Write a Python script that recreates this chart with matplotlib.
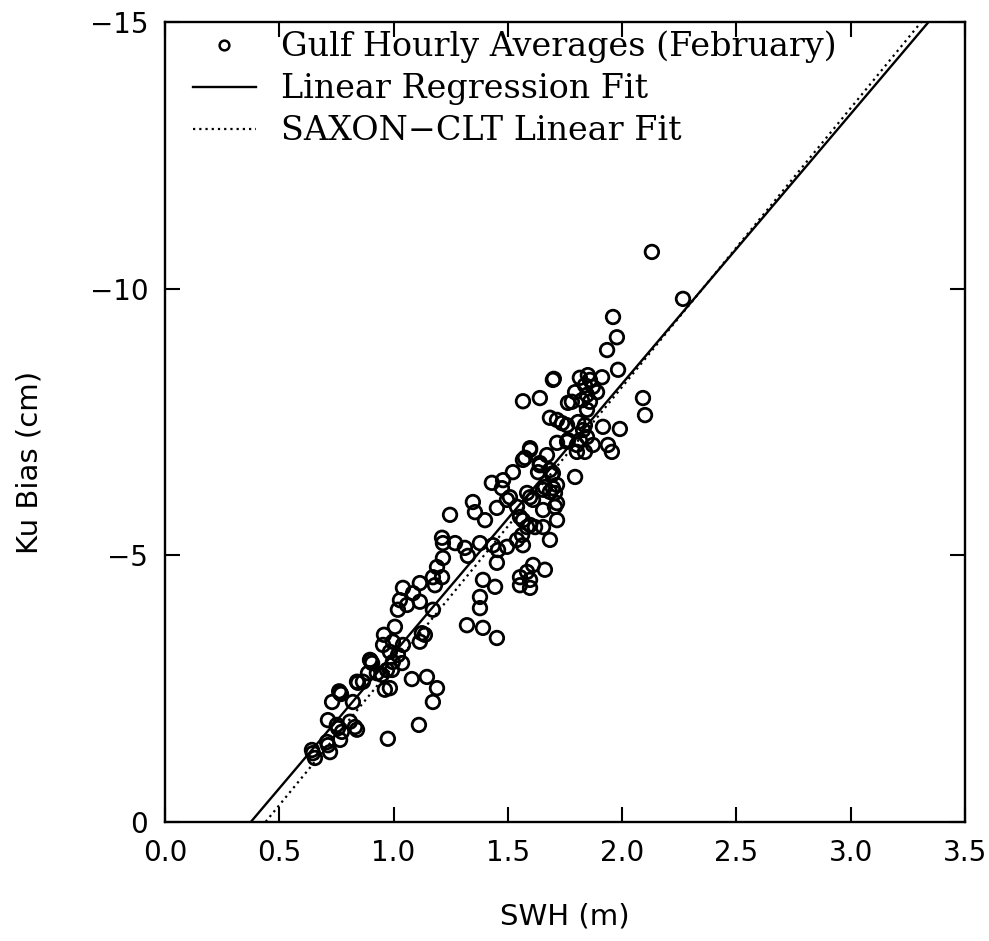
import numpy as np
import matplotlib
matplotlib.use("Agg")
import matplotlib.pyplot as plt
from matplotlib.lines import Line2D

# Gulf hourly averages (February)
swh = [0.643, 0.647, 0.656, 0.709, 0.713, 0.722, 0.766, 0.713, 0.752, 0.757, 0.774, 0.809, 0.831, 0.840,
       0.731, 0.766, 0.770, 0.762, 0.822, 0.840, 0.844, 0.866, 0.888, 0.927, 0.949, 0.897, 0.906, 0.900,
       0.958, 0.954, 0.997, 1.041, 0.984, 1.019, 1.037, 0.997, 0.971, 0.993, 1.006, 1.124, 1.115, 1.137,
       1.080, 1.146, 1.190, 1.172, 0.962, 0.984, 1.111, 0.975,
       1.041, 1.085, 1.115, 1.028, 1.059, 1.115, 1.172, 1.019,
       1.212, 1.216, 1.269, 1.312, 1.325, 1.378, 1.216, 1.190, 1.212, 1.181, 1.172, 1.247, 1.347, 1.356, 1.400,
       1.391, 1.444, 1.378, 1.378, 1.321, 1.391, 1.452,
       1.435, 1.457, 1.496, 1.452, 1.452, 1.496, 1.509, 1.540, 1.430, 1.479, 1.474, 1.522, 1.575, 1.597,
       1.632, 1.640, 1.671, 1.684, 1.693, 1.715, 1.759, 1.584, 1.597, 1.610, 1.654, 1.662, 1.684, 1.697, 1.715,
       1.706, 1.654, 1.715, 1.553, 1.566, 1.584, 1.597, 1.619, 1.654, 1.684, 1.540, 1.566, 1.562, 1.715, 1.706,
       1.553, 1.584, 1.610, 1.662, 1.597, 1.553, 1.597,
       1.566, 1.640, 1.684, 1.715, 1.737, 1.759, 1.807, 1.837, 1.829, 1.916, 1.990,
       1.763, 1.802, 1.815, 1.802, 1.837, 1.872, 1.846, 1.938, 1.955, 1.597, 1.566, 1.640, 1.697, 1.794,
       1.697, 1.701, 1.815, 1.850, 1.859, 1.912, 1.872, 1.837, 1.890, 1.794, 1.846, 1.824, 1.859, 1.780, 1.763, 1.846,
       1.977, 1.934, 1.982, 1.960, 2.091, 2.100, 2.130, 2.266]

ku_bias = [-1.35, -1.29, -1.20, -1.50, -1.44, -1.31, -1.54, -1.91, -1.82, -1.76, -1.69, -1.88, -1.78, -1.73,
           -2.25, -2.42, -2.40, -2.45, -2.25, -2.63, -2.61, -2.63, -2.79, -2.79, -2.76, -3.04, -2.98, -3.02,
           -3.51, -3.32, -3.38, -3.32, -3.19, -3.13, -2.98, -3.00, -2.85, -2.85, -3.66, -3.54, -3.38, -3.51,
           -2.68, -2.72, -2.51, -2.25, -2.48, -2.51, -1.82, -1.56,
           -4.39, -4.29, -4.48, -4.16, -4.07, -4.13, -3.98, -3.98,
           -5.33, -5.23, -5.23, -5.14, -4.99, -5.23, -4.95, -4.78, -4.59, -4.44, -4.59, -5.76, -6.00, -5.81, -5.66,
           -4.54, -4.41, -4.22, -4.01, -3.69, -3.64, -3.45,
           -5.19, -5.10, -5.16, -4.86, -5.89, -6.04, -6.09, -5.91, -6.36, -6.41, -6.26, -6.56, -6.83, -6.98,
           -6.56, -6.73, -6.88, -6.60, -6.51, -7.11, -7.13, -6.17, -6.09, -6.04, -6.23, -6.28, -6.19, -6.26, -6.32,
           -5.91, -5.85, -5.66, -5.72, -5.66, -5.53, -5.57, -5.53, -5.53, -5.29, -5.29, -5.19, -5.38, -5.98, -6.17,
           -4.59, -4.69, -4.82, -4.73, -4.54, -4.44, -4.39,
           -7.89, -7.95, -7.58, -7.54, -7.48, -7.44, -7.50, -7.44, -7.35, -7.41, -7.37,
           -7.16, -7.07, -7.16, -6.94, -6.94, -7.07, -7.22, -7.07, -6.94, -7.01, -6.79, -6.69, -6.54, -6.47,
           -8.29, -8.31, -8.33, -8.38, -8.29, -8.34, -8.16, -8.19, -8.06, -8.06, -8.01, -7.91, -7.88, -7.88, -7.86, -7.73,
           -9.09, -8.85, -8.48, -9.47, -7.95, -7.63, -10.69, -9.81]

# linear fits (cm per m, cm)
reg_slope, reg_intercept = -5.06, 1.90
saxon_slope, saxon_intercept = -5.23, 2.30

x_ticks = [0.0, 0.5, 1.0, 1.5, 2.0, 2.5, 3.0, 3.5]
y_ticks = [0, -5, -10, -15]

fig = plt.figure(figsize=(9.89, 9.41), dpi=100)
ax = fig.add_axes([0.1668, 0.1265, 0.809, 0.850])

xx = np.linspace(0.0, 3.5, 200)
ax.plot(xx, reg_slope * xx + reg_intercept, color="black", lw=1.7)
ax.plot(xx, saxon_slope * xx + saxon_intercept, color="black", lw=1.6, linestyle=(0, (1, 1.8)))
ax.scatter(swh, ku_bias, s=95, facecolors="none", edgecolors="black", linewidths=2.0, zorder=3)

ax.set_xlim(0, 3.5)
ax.set_ylim(0, -15)
ax.set_xticks(x_ticks)
ax.set_xticklabels([f"{t:.1f}" for t in x_ticks])
ax.set_yticks(y_ticks)
ax.set_yticklabels(["0" if t == 0 else "\u2212" + str(abs(t)) for t in y_ticks])
ax.tick_params(direction="in", length=11, width=1.5, top=True, right=True,
               labelsize=20, pad=12)
for sp in ax.spines.values():
    sp.set_linewidth(1.7)

ax.set_xlabel("SWH (m)", fontsize=21, labelpad=26)
ax.set_ylabel("Ku Bias (cm)", fontsize=21)
ax.yaxis.set_label_coords(-0.152, 0.45)

handles = [
    Line2D([], [], marker="o", markersize=7, markerfacecolor="none", markeredgecolor="black",
           markeredgewidth=1.8, linestyle="none"),
    Line2D([], [], color="black", lw=1.7),
    Line2D([], [], color="black", lw=1.6, linestyle=(0, (1, 1.8))),
]
labels = ["Gulf Hourly Averages (February)", "Linear Regression Fit", "SAXON\u2212CLT Linear Fit"]
ax.legend(handles, labels, loc="upper left", bbox_to_anchor=(0.018, 1.006), frameon=False,
          prop={"family": "DejaVu Serif", "size": 24}, handlelength=1.9, handletextpad=0.75,
          labelspacing=0.3, borderaxespad=0)

fig.savefig("out.png", dpi=100)
